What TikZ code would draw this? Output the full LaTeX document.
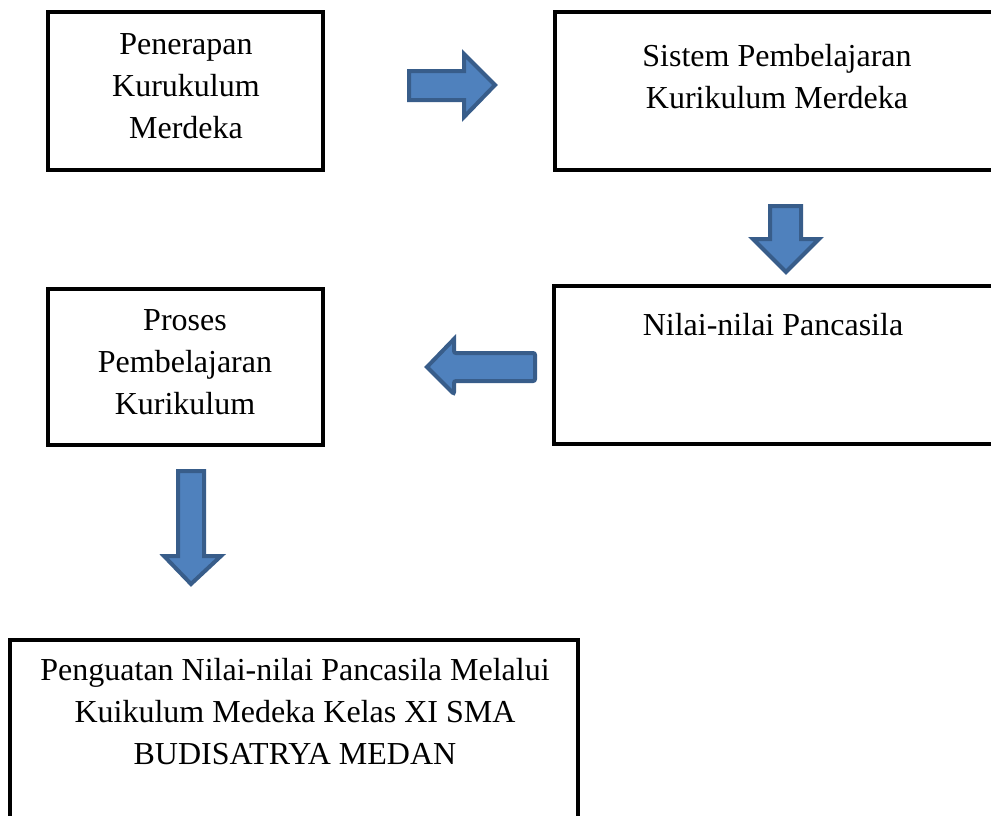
\documentclass[tikz,border=0pt]{standalone}
\usepackage{fontspec}
\setmainfont{Liberation Serif}
\definecolor{arrowfill}{HTML}{4F81BD}
\definecolor{arrowline}{HTML}{385D8A}
\begin{document}
\begin{tikzpicture}[x=1pt,y=-1pt,
  box/.style={draw=black, line width=4pt, minimum width=#1, inner sep=0pt, outer sep=0pt, anchor=north west},
  blockarrow/.style={fill=arrowfill, draw=arrowline, line width=4pt, line join=miter},
  txt/.style={font=\fontsize{32}{42}\selectfont, align=center, inner sep=0pt, anchor=base}]
\useasboundingbox (0,0) rectangle (991,815);
\clip (0,0) rectangle (991,815);
\fill[white] (0,0) rectangle (991,815);
% boxes
\node[box=275pt, minimum height=158pt] (b1) at (48,12) {};
\node[box=448pt, minimum height=158pt] (b2) at (555,12) {};
\node[box=448pt, minimum height=158pt] (b3) at (554,286) {};
\node[box=275pt, minimum height=156pt] (b4) at (48,289) {};
\node[box=568pt, minimum height=220pt] (b5) at (10,640) {};
% texts (base anchor = baseline of the last line)
\node[txt] (t1) at (186,138) {Penerapan\\Kurukulum\\Merdeka};
\node[txt] (t2) at (777,108) {Sistem Pembelajaran\\Kurikulum Merdeka};
\node[txt] (t3) at (773,335) {Nilai-nilai Pancasila};
\node[txt] (t4) at (185,414) {Proses\\Pembelajaran\\Kurikulum};
\node[txt] (t5) at (295,764) {Penguatan Nilai-nilai Pancasila Melalui\\Kuikulum Medeka Kelas XI SMA\\BUDISATRYA MEDAN};
% block arrows
\draw[blockarrow] (409,71) -- (464,71) -- (464,54) -- (495,85) -- (464,117) -- (464,100) -- (409,100) -- cycle;
\draw[blockarrow] (770,206) -- (801,206) -- (801,239) -- (819,239) -- (786,272) -- (753,239) -- (770,239) -- cycle;
\draw[blockarrow, rounded corners=2pt] (535,353) -- (535,381) -- (454,381) -- (454,394) [sharp corners] -- (427,367) -- (454,339) [rounded corners=2pt] -- (454,353) -- cycle;
\draw[blockarrow] (178,471) -- (204,471) -- (204,556) -- (221,556) -- (191,584) -- (164,556) -- (178,556) -- cycle;
\end{tikzpicture}
\end{document}
